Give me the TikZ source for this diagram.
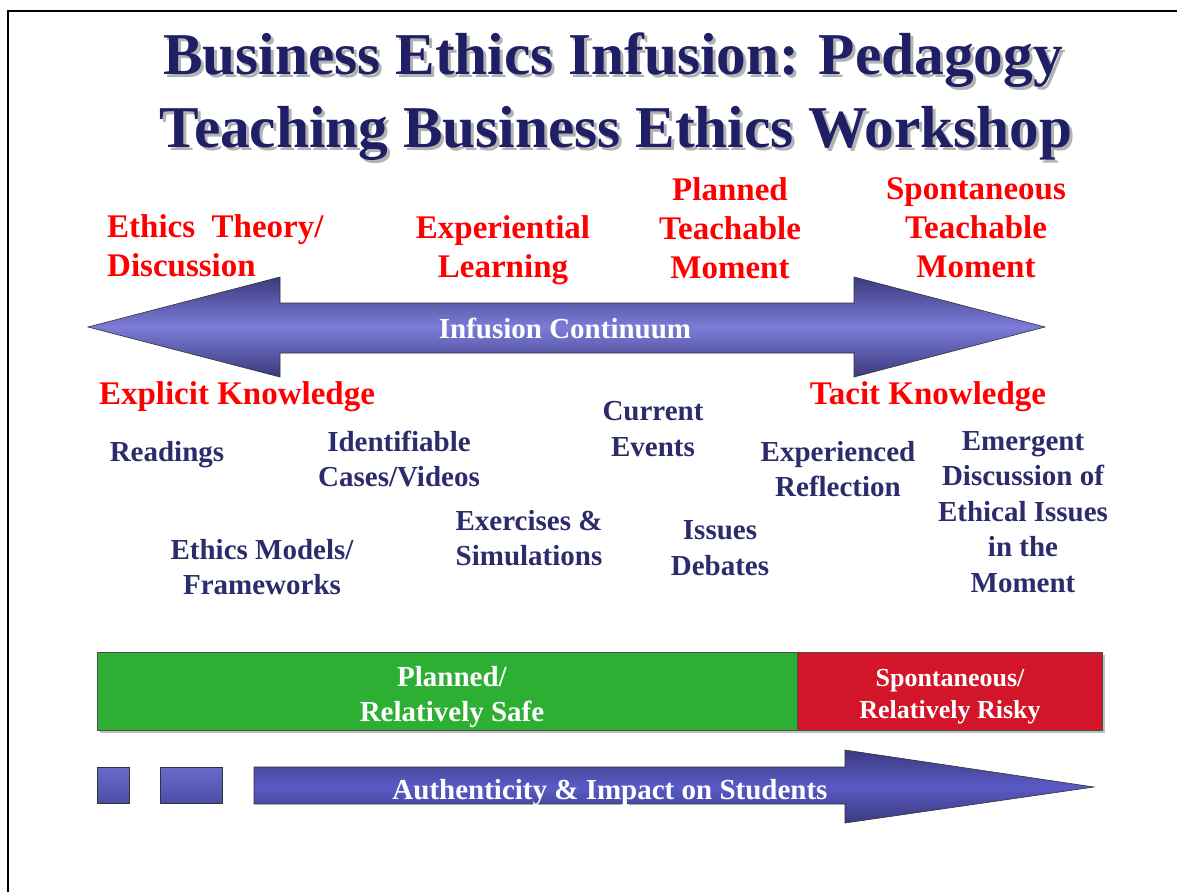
\documentclass[tikz,border=0pt]{standalone}
\usepackage{fontspec}
\setmainfont{Liberation Serif}
\definecolor{titleblue}{HTML}{1F1F66}
\definecolor{labelblue}{HTML}{2C2C6C}
\definecolor{labelred}{HTML}{FF0000}
\definecolor{arrowdark}{HTML}{3A3A7E}
\definecolor{arrowlight}{HTML}{7C7CD8}
\definecolor{barblue}{HTML}{5A5AC6}
\definecolor{safegreen}{HTML}{2DAF34}
\definecolor{riskyred}{HTML}{D3152A}
\begin{document}
\begin{tikzpicture}[x=1pt, y=-1pt,
            title/.style={font=\fontsize{59.3}{72}\selectfont\bfseries, inner sep=0pt},
            redlabel/.style={font=\fontsize{33}{39}\selectfont\bfseries, text=labelred, align=center, inner sep=0pt},
            bluelabel/.style={font=\fontsize{29}{35.5}\selectfont\bfseries, text=labelblue, align=center, inner sep=0pt},
            whitelabel/.style={font=\fontsize{29}{35}\selectfont\bfseries, text=white, align=center, inner sep=0pt},
            barbox/.style={draw=black!70, line width=0.8pt}
        ]
        \useasboundingbox (0,0) rectangle (1177,892);

        % Slide frame
        \draw[line width=2.5pt] (8,892) -- (8,11) -- (1177,11);

        % Title with shadow
        \node[title, text=black!30] at (616,63) {Business Ethics Infusion: Pedagogy};
        \node[title, text=titleblue] (t1) at (613,60) {Business Ethics Infusion: Pedagogy};
        \node[title, text=black!30] at (619,136) {Teaching Business Ethics Workshop};
        \node[title, text=titleblue] (t2) at (616,133) {Teaching Business Ethics Workshop};

        % Labels above the continuum
        \node[redlabel, align=left, anchor=west] (theory) at (107,246) {Ethics\ \ Theory/\\Discussion};
        \node[redlabel] (experiential) at (503,250) {Experiential\\Learning};
        \node[redlabel] (planned) at (730,228) {Planned\\Teachable\\Moment};
        \node[redlabel] (spontaneous) at (976,228) {Spontaneous\\Teachable\\Moment};

        % Infusion continuum (double arrow)
        \shade[top color=arrowdark, bottom color=arrowdark, middle color=arrowlight, draw=black!80, line width=0.6pt]
            (88,327) -- (280,277) -- (280,303) -- (854,303) -- (854,277) -- (1045,327)
            -- (854,377) -- (854,353) -- (280,353) -- (280,377) -- cycle;
        \node[whitelabel] (continuum) at (565,328) {Infusion Continuum};

        % Knowledge ends
        \node[redlabel] (explicit) at (237,397) {Explicit Knowledge};
        \node[redlabel] (tacit) at (928,397) {Tacit Knowledge};

        % Teaching methods
        \node[bluelabel] (readings) at (167,455) {Readings};
        \node[bluelabel] (cases) at (399,459) {Identifiable\\Cases/Videos};
        \node[bluelabel] (events) at (653,429) {Current\\Events};
        \node[bluelabel] (reflection) at (838,469) {Experienced\\Reflection};
        \node[bluelabel] (emergent) at (1023,512) {Emergent\\Discussion of\\Ethical Issues\\in the\\Moment};
        \node[bluelabel] (models) at (262,567) {Ethics Models/\\Frameworks};
        \node[bluelabel] (exercises) at (529,538) {Exercises \&\\Simulations};
        \node[bluelabel] (debates) at (720,548) {Issues\\Debates};

        % Safe / risky bar
        \fill[black!25] (100,655) rectangle (1105,733);
        \filldraw[barbox, fill=safegreen] (97,652) rectangle (797,730);
        \filldraw[barbox, fill=riskyred] (797,652) rectangle (1102,730);
        \node[whitelabel] (safe) at (452,697) {Planned/\\Relatively Safe};
        \node[whitelabel, font=\fontsize{26}{32}\selectfont\bfseries] (risky) at (950,697) {Spontaneous/\\Relatively Risky};

        % Authenticity arrow
        \shade[top color=barblue!90!white, bottom color=barblue!85!black, draw=black!80, line width=0.6pt]
            (97,767) rectangle (129,803);
        \shade[top color=barblue!90!white, bottom color=barblue!85!black, draw=black!80, line width=0.6pt]
            (160,767) rectangle (222,803);
        \shade[top color=arrowdark, bottom color=arrowdark, middle color=barblue, draw=black!80, line width=0.6pt]
            (254,767) -- (845,767) -- (845,750) -- (1094,787) -- (845,823) -- (845,804) -- (254,804) -- cycle;
        \node[whitelabel] (impact) at (610,793) {Authenticity \& Impact on Students};

    \end{tikzpicture}
\end{document}
